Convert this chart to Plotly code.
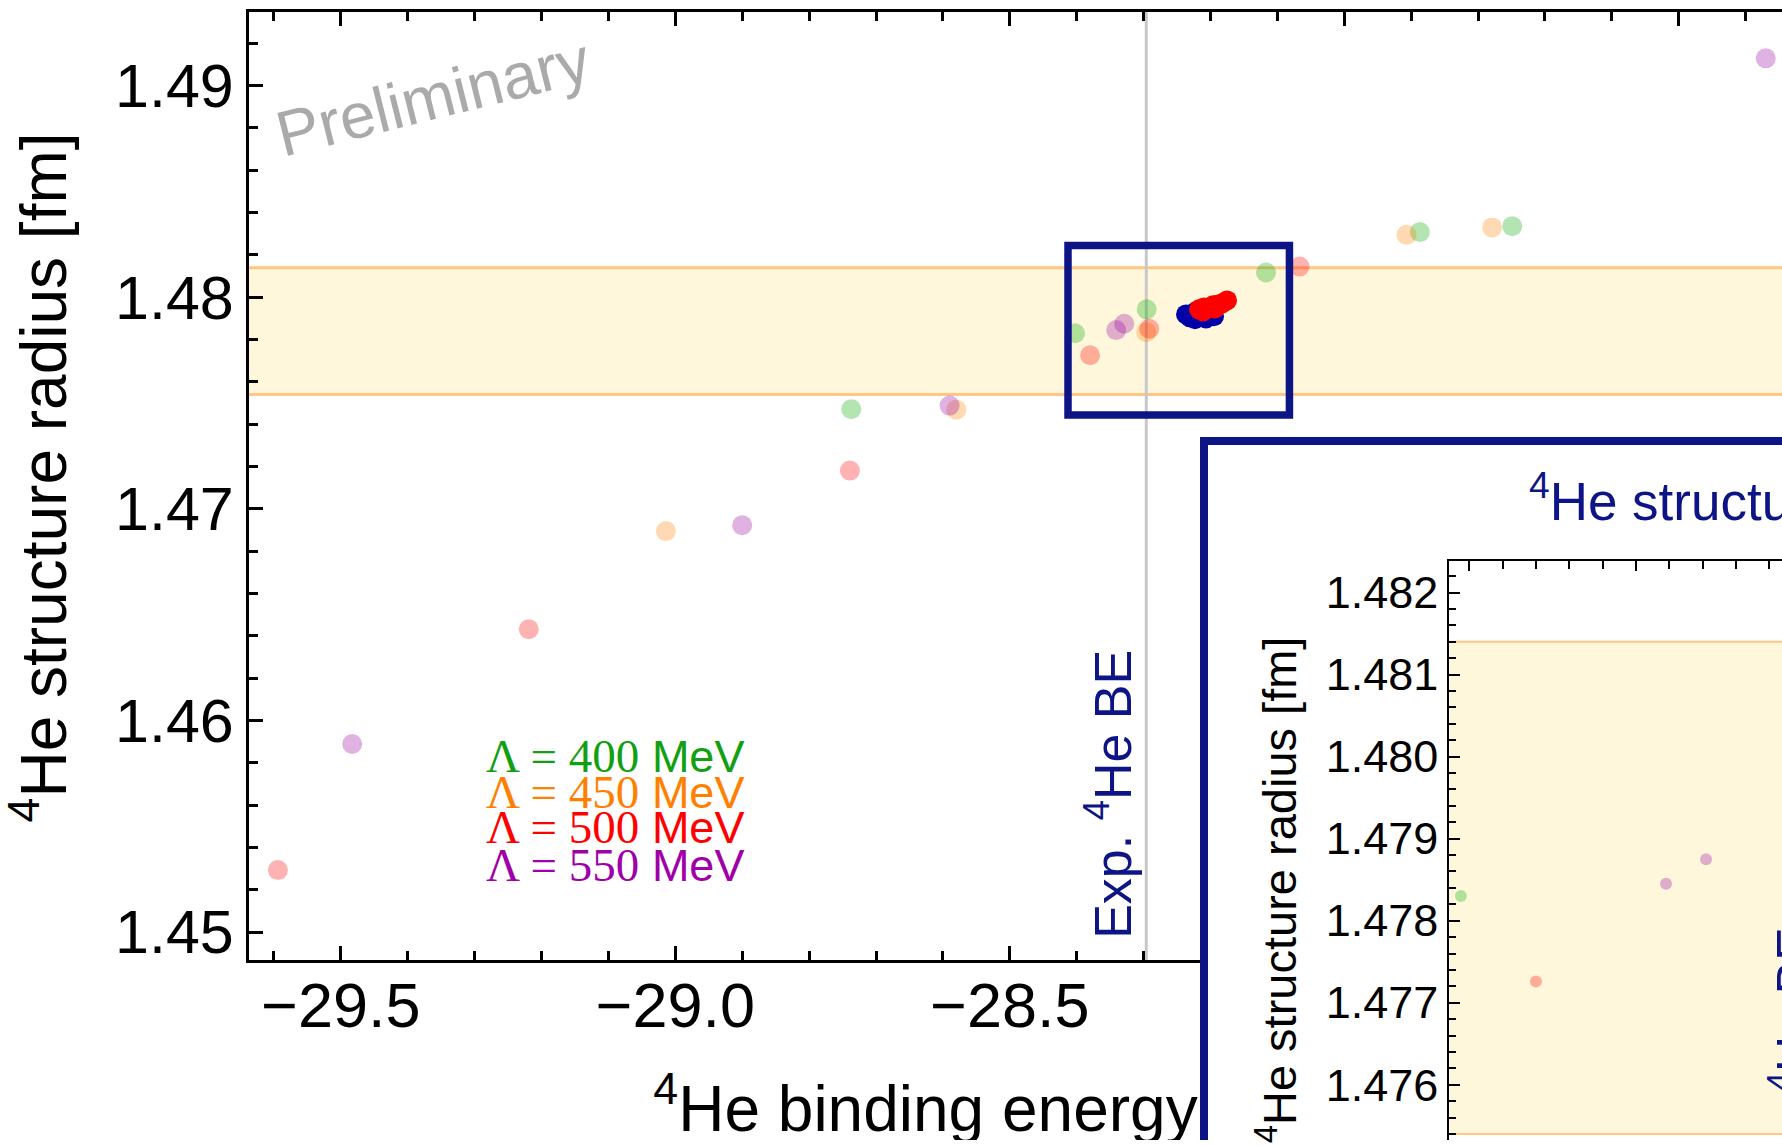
import plotly.graph_objects as go

# ---------------- data ----------------
# Lambda = 400 MeV
be400 = [-28.737, -28.4025, -28.2954, -28.117, -27.887, -27.749]
r400 = [1.47471, 1.47830, 1.47943, 1.48117, 1.48308, 1.48336]
# Lambda = 450 MeV
be450 = [-29.014, -28.580, -28.296, -27.907, -27.779]
r450 = [1.46895, 1.47469, 1.47835, 1.48295, 1.48330]
# Lambda = 500 MeV
be500 = [-29.594, -29.219, -28.739, -28.380, -28.2915, -28.067]
r500 = [1.45293, 1.46431, 1.47181, 1.47726, 1.47851, 1.48145]
# Lambda = 550 MeV
be550 = [-29.483, -28.900, -28.590, -28.341, -28.329, -27.370]
r550 = [1.45889, 1.46923, 1.47488, 1.47845, 1.47875, 1.49129]
# highlighted cluster (blue and red, opaque)
be_blue = [-28.2366, -28.2306, -28.2231, -28.2156, -28.2067, -28.1992, -28.1947, -28.2097, -28.2216]
r_blue = [1.47919, 1.47905, 1.47896, 1.47910, 1.47900, 1.47919, 1.47910, 1.47938, 1.47933]
be_red = [-28.2171, -28.2097, -28.2022, -28.1962, -28.1887, -28.1827, -28.1753, -28.2112, -28.1932]
r_red = [1.47943, 1.47952, 1.47952, 1.47962, 1.47966, 1.47971, 1.47985, 1.47933, 1.47947]

band_lo, band_hi = 1.47540, 1.48140          # structure-radius band
exp_be = -28.296                               # experimental 4He binding energy
zoom_x = [-28.413, -28.082]                    # zoom box in the main panel
zoom_y = [1.47444, 1.48245]

legend_labels = ["400", "450", "500", "550"]
main_x_tickvals = [-29.5, -29.0, -28.5, -28.0, -27.5]
main_x_ticktext = ["−29.5", "−29.0", "−28.5", "", ""]   # last two lie under the inset

# ---------------- styling ----------------
W, H = 1782, 1146
NAVY = "#0c1486"
SANS = "Liberation Sans"
pale = {"400": "rgb(0,170,0)", "450": "rgb(255,128,0)", "500": "rgb(255,0,0)", "550": "rgb(150,0,160)"}
legend_col = {"400": "#12a012", "450": "#ff8000", "500": "#ff0000", "550": "#a000a8"}
BAND_FILL = "#fff7dc"
BAND_LINE = "#ffc685"


def fx(px):
    return px / W


def fy(py):
    return 1 - py / H


series = [(be400, r400, "400"), (be450, r450, "450"), (be500, r500, "500"), (be550, r550, "550")]

main_x_range = [-29.63722, -27.34573]
main_y_range = [1.448660, 1.493469]
inset_x_range = [-28.40598, -28.30622]
inset_y_range = [1.475327, 1.482384]

MAIN_L, INSET_BOX_L = 249, 1200
# x-range of the title strip (same scale as the main axis, ending at the inset border)
title_x_range = [main_x_range[0],
                 main_x_range[0] + (INSET_BOX_L - MAIN_L) / (W - MAIN_L) * (main_x_range[1] - main_x_range[0])]

fig = go.Figure()

# main panel (x, y)
for bx, ry, lab in series:
    fig.add_trace(go.Scatter(x=bx, y=ry, mode="markers", xaxis="x", yaxis="y",
                             marker=dict(size=20, color=pale[lab], opacity=0.3, line=dict(width=0)),
                             hoverinfo="skip", showlegend=False))
fig.add_trace(go.Scatter(x=be_blue, y=r_blue, mode="markers", xaxis="x", yaxis="y",
                         marker=dict(size=20, color="#0000a8", line=dict(width=0)),
                         hoverinfo="skip", showlegend=False))
fig.add_trace(go.Scatter(x=be_red, y=r_red, mode="markers", xaxis="x", yaxis="y",
                         marker=dict(size=20, color="#ff0000", line=dict(width=0)),
                         hoverinfo="skip", showlegend=False))

# x-axis title of the main panel (strip clipped at the inset border)
fig.add_trace(go.Scatter(x=[-28.4878], y=[0.14], mode="text", xaxis="x2", yaxis="y2",
                         text=["<sup>4</sup>He binding energy [MeV]"], textposition="middle center",
                         textfont=dict(family=SANS, size=64, color="black"),
                         cliponaxis=True, hoverinfo="skip", showlegend=False))

# inset frame layer (x3, y3)
fig.add_trace(go.Scatter(x=[0.5], y=[0.5], mode="markers", xaxis="x3", yaxis="y3",
                         marker=dict(size=1, opacity=0), hoverinfo="skip", showlegend=False))

# inset panel (x4, y4)
for bx, ry, lab in series:
    fig.add_trace(go.Scatter(x=bx, y=ry, mode="markers", xaxis="x4", yaxis="y4",
                             marker=dict(size=12, color=pale[lab], opacity=0.3, line=dict(width=0)),
                             hoverinfo="skip", showlegend=False))
fig.add_trace(go.Scatter(x=be_blue, y=r_blue, mode="markers", xaxis="x4", yaxis="y4",
                         marker=dict(size=12, color="#0000a8", line=dict(width=0)),
                         hoverinfo="skip", showlegend=False))
fig.add_trace(go.Scatter(x=be_red, y=r_red, mode="markers", xaxis="x4", yaxis="y4",
                         marker=dict(size=12, color="#ff0000", line=dict(width=0)),
                         hoverinfo="skip", showlegend=False))

fig.update_layout(
    width=W, height=H,
    margin=dict(l=0, r=0, t=0, b=0),
    paper_bgcolor="white", plot_bgcolor="white",
    showlegend=False,
    xaxis=dict(domain=[fx(MAIN_L), 1], range=main_x_range, anchor="y",
               showline=True, linecolor="black", linewidth=3, mirror="ticks",
               ticks="inside", ticklen=14, tickwidth=2.5, tickcolor="black",
               tickmode="array", tickvals=main_x_tickvals, ticktext=main_x_ticktext,
               tickfont=dict(family=SANS, size=63, color="black"), ticklabelstandoff=-12,
               minor=dict(dtick=0.1, tick0=-29.5, ticks="inside", ticklen=9, tickwidth=2.5,
                          tickcolor="black"),
               showgrid=False, zeroline=False),
    yaxis=dict(domain=[fy(965.5), fy(12.3)], range=main_y_range, anchor="x",
               showline=True, linecolor="black", linewidth=3, mirror=False,
               ticks="inside", ticklen=14, tickwidth=2.5, tickcolor="black",
               tick0=1.45, dtick=0.01, tickformat=".2f",
               tickfont=dict(family=SANS, size=61, color="black"),
               minor=dict(dtick=0.002, ticks="inside", ticklen=9, tickwidth=2.5, tickcolor="black"),
               showgrid=False, zeroline=False),
    xaxis2=dict(domain=[fx(MAIN_L), fx(INSET_BOX_L)], range=title_x_range, anchor="y2", visible=False),
    yaxis2=dict(domain=[0, fy(965.5)], range=[0, 1], anchor="x2", visible=False),
    xaxis3=dict(domain=[fx(1207.8), 1], range=[0, 1], anchor="y3", side="top",
                showline=True, linecolor=NAVY, linewidth=7.5, ticks="", showticklabels=False,
                showgrid=False, zeroline=False),
    yaxis3=dict(domain=[0, fy(446.9)], range=[0, 1], anchor="x3", side="left",
                showline=True, linecolor=NAVY, linewidth=7.5, ticks="", showticklabels=False,
                showgrid=False, zeroline=False),
    xaxis4=dict(domain=[fx(1449.3), 1], range=inset_x_range, anchor="y4", side="top",
                showline=True, linecolor="black", linewidth=2,
                ticks="inside", ticklen=10, tickwidth=2, tickcolor="black",
                tick0=-28.35, dtick=0.05, showticklabels=False,
                minor=dict(dtick=0.01, ticks="inside", ticklen=8, tickwidth=2, tickcolor="black"),
                showgrid=False, zeroline=False),
    yaxis4=dict(domain=[0, fy(564)], range=inset_y_range, anchor="x4", side="left",
                showline=True, linecolor="black", linewidth=2,
                ticks="inside", ticklen=11, tickwidth=2, tickcolor="black",
                tick0=1.476, dtick=0.001, tickformat=".3f",
                tickfont=dict(family=SANS, size=45, color="black"),
                minor=dict(dtick=0.0002, ticks="inside", ticklen=7, tickwidth=2, tickcolor="black"),
                showgrid=False, zeroline=False),
)

shapes = []
# main band
shapes.append(dict(type="rect", xref="x", yref="y", x0=main_x_range[0] - 1, x1=main_x_range[1] + 1,
                   y0=band_lo, y1=band_hi, fillcolor=BAND_FILL, line=dict(color=BAND_LINE, width=3),
                   layer="below"))
# experimental BE line (main)
shapes.append(dict(type="line", xref="x", yref="y", x0=exp_be, x1=exp_be,
                   y0=main_y_range[0] - 0.01, y1=main_y_range[1] + 0.01,
                   line=dict(color="rgb(200,200,200)", width=3), layer="below"))
# zoom box (main)
shapes.append(dict(type="rect", xref="x", yref="y", x0=zoom_x[0], x1=zoom_x[1],
                   y0=zoom_y[0], y1=zoom_y[1], line=dict(color=NAVY, width=7.5),
                   fillcolor="rgba(0,0,0,0)", layer="above"))
# inset white background
shapes.append(dict(type="rect", xref="x3", yref="y3", x0=-0.1, x1=1.1, y0=-0.1, y1=1.1,
                   fillcolor="white", line=dict(width=0), layer="below"))
# inset band
shapes.append(dict(type="rect", xref="x4", yref="y4", x0=inset_x_range[0] - 1, x1=inset_x_range[1] + 1,
                   y0=band_lo, y1=band_hi, fillcolor=BAND_FILL, line=dict(color=BAND_LINE, width=2),
                   layer="below"))
# inset experimental line
shapes.append(dict(type="line", xref="x4", yref="y4", x0=exp_be, x1=exp_be,
                   y0=inset_y_range[0] - 0.01, y1=inset_y_range[1] + 0.01,
                   line=dict(color="rgb(200,200,200)", width=2), layer="below"))
fig.update_layout(shapes=shapes)

ann = []
# main y title
ann.append(dict(xref="paper", yref="paper", x=fx(40), y=fy(480), xanchor="center", yanchor="middle",
                text="<sup>4</sup>He structure radius [fm]", textangle=-90, showarrow=False,
                font=dict(family=SANS, size=64, color="black")))
# Preliminary
ann.append(dict(xref="paper", yref="paper", x=fx(433), y=fy(98), xanchor="center", yanchor="middle",
                text="Preliminary", textangle=-14, showarrow=False,
                font=dict(family=SANS, size=64, color="#aaaaaa")))
# Exp. BE label (main)
ann.append(dict(xref="paper", yref="paper", x=fx(1109), y=fy(799), xanchor="center", yanchor="middle",
                text="Exp. <sup>4</sup>He BE", textangle=-90, showarrow=False,
                font=dict(family=SANS, size=52, color=NAVY)))
# legend text
leg_y = [760, 795.7, 831.4, 869.9]
for lab, py in zip(legend_labels, leg_y):
    ann.append(dict(xref="paper", yref="paper", x=fx(484), y=fy(py), xanchor="left", yanchor="middle",
                    text="<span style=\"font-family:'Liberation Serif';font-size:47px\">Λ = " + lab +
                         "</span> MeV",
                    showarrow=False, font=dict(family=SANS, size=45, color=legend_col[lab])))
# inset title
ann.append(dict(xref="paper", yref="paper", x=fx(1527), y=fy(500), xanchor="left", yanchor="middle",
                text="<sup>4</sup>He structure radius", showarrow=False,
                font=dict(family=SANS, size=53, color=NAVY)))
# inset y title
ann.append(dict(xref="paper", yref="paper", x=fx(1277), y=fy(895), xanchor="center", yanchor="middle",
                text="<sup>4</sup>He structure radius [fm]", textangle=-90, showarrow=False,
                font=dict(family=SANS, size=47, color="black")))
# inset Exp. BE label
ann.append(dict(xref="paper", yref="paper", x=fx(1791), y=fy(1072), xanchor="center", yanchor="middle",
                text="Exp. <sup>4</sup>He BE", textangle=-90, showarrow=False,
                font=dict(family=SANS, size=50, color=NAVY)))
fig.update_layout(annotations=ann)

fig.write_html("out.html", config={"displayModeBar": False},
               post_script="document.body.style.margin='0px';document.body.style.overflow='hidden';")
